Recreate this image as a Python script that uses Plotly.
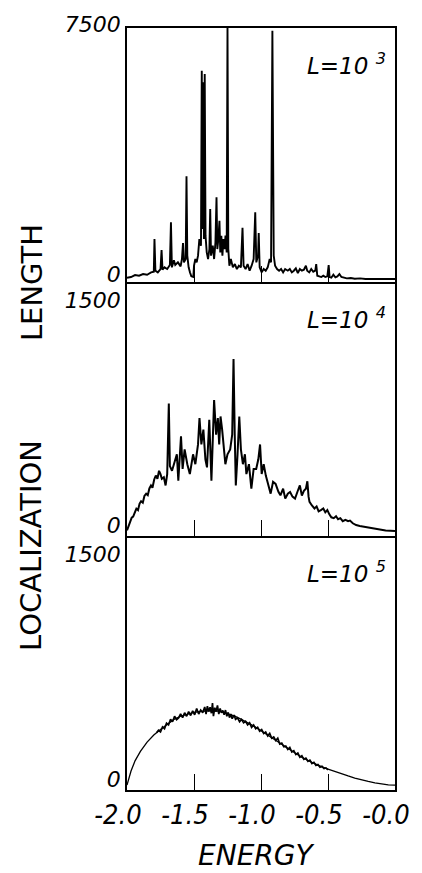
import plotly.graph_objects as go
from plotly.subplots import make_subplots

# ---------------- data ----------------
# Panel L=10^3
e1 = [-2.00, -1.97, -1.94, -1.91, -1.88, -1.85, -1.82, -1.80, -1.795, -1.788, -1.77, -1.75, -1.742, -1.735,
      -1.72, -1.70, -1.68, -1.672, -1.665, -1.65, -1.64, -1.62, -1.60, -1.59, -1.582, -1.575, -1.562, -1.556,
      -1.550, -1.54, -1.53, -1.52, -1.505, -1.50, -1.49, -1.48, -1.47, -1.46, -1.448, -1.442, -1.436, -1.430,
      -1.426, -1.420, -1.414, -1.405, -1.395, -1.385, -1.379, -1.373, -1.36, -1.35, -1.34, -1.332, -1.326,
      -1.318, -1.310, -1.304, -1.296, -1.288, -1.28, -1.272, -1.265, -1.256, -1.250, -1.244, -1.236, -1.225,
      -1.21, -1.195, -1.18, -1.165, -1.150, -1.138, -1.130, -1.115, -1.10, -1.085, -1.07, -1.055, -1.043,
      -1.035, -1.022, -1.017, -1.010, -0.995, -0.98, -0.965, -0.95, -0.935, -0.925, -0.915, -0.905, -0.895,
      -0.88, -0.865, -0.85, -0.835, -0.82, -0.80, -0.785, -0.77, -0.755, -0.74, -0.725, -0.71, -0.695, -0.68,
      -0.665, -0.655, -0.64, -0.625, -0.61, -0.595, -0.588, -0.58, -0.565, -0.55, -0.535, -0.52, -0.505,
      -0.495, -0.488, -0.475, -0.46, -0.445, -0.43, -0.415, -0.40, -0.38, -0.36, -0.33, -0.30, -0.26, -0.22,
      -0.15, -0.08, 0.0]
v1 = [40, 60, 120, 100, 150, 130, 200, 220, 1200, 250, 200, 300, 870, 280,
      350, 300, 420, 1700, 350, 560, 420, 500, 380, 600, 1080, 500, 600, 3080,
      700, 350, 200, 80, 60, 400, 600, 500, 700, 1200, 1000, 6250, 1500, 5900,
      1200, 6150, 1300, 800, 600, 900, 2100, 700, 1000, 600, 1100, 2450, 900,
      1200, 1750, 800, 1300, 700, 1200, 900, 1300, 800, 7600, 900, 400, 600,
      350, 450, 300, 400, 350, 1540, 400, 300, 450, 250, 400, 600, 2000,
      500, 700, 1380, 350, 200, 300, 250, 350, 600, 500, 7450, 700, 400,
      300, 250, 300, 200, 300, 250, 300, 200, 250, 320, 180, 300, 250, 280,
      400, 250, 200, 300, 220, 250, 450, 100, 80, 60, 100, 60, 80,
      420, 60, 40, 130, 50, 80, 150, 60, 40, 20, 30, 10, 20, 0,
      0, 0, 0]

# Panel L=10^4
e2 = [-2.000, -1.985, -1.975, -1.965, -1.954, -1.943, -1.930, -1.918, -1.906, -1.895, -1.882, -1.870,
      -1.857, -1.845, -1.833, -1.821, -1.810, -1.797, -1.785, -1.773, -1.761, -1.750, -1.740, -1.725,
      -1.712, -1.700, -1.688, -1.680, -1.664,
      -1.628, -1.617, -1.597, -1.585, -1.570, -1.550, -1.531, -1.507, -1.490, -1.470, -1.459, -1.445, -1.430,
      -1.415, -1.403, -1.386, -1.370, -1.360, -1.350, -1.335, -1.322, -1.312, -1.302, -1.290, -1.276, -1.266,
      -1.250, -1.230, -1.215, -1.205, -1.196, -1.188, -1.175, -1.162, -1.150, -1.135, -1.120, -1.109, -1.090,
      -1.072, -1.055, -1.036, -1.020, -1.007, -0.995, -0.980, -0.964, -0.945, -0.928, -0.910, -0.891, -0.870,
      -0.855, -0.835, -0.819, -0.800, -0.783, -0.765, -0.746, -0.728, -0.710, -0.695, -0.680, -0.665, -0.654,
      -0.645, -0.638, -0.620, -0.601, -0.585, -0.570, -0.553, -0.535, -0.520, -0.505, -0.490, -0.475, -0.457,
      -0.440, -0.425, -0.408, -0.390, -0.370, -0.350, -0.336, -0.315, -0.290, -0.263, -0.230, -0.200, -0.167,
      -0.120, -0.070, 0.000]
v2 = [5, 40, 55, 90, 97, 120, 150, 140, 184, 200, 190, 235,
      250, 240, 285, 305, 290, 345, 371, 350, 403, 380, 349, 360,
      305, 381, 853, 434, 403,
      513, 337, 634, 415, 546, 447, 381, 513, 447, 579, 755, 579, 678,
      480, 426, 744, 337, 579, 875, 644, 755, 579, 766, 678, 546, 447,
      513, 546, 644, 1149, 644, 305, 513, 766, 546, 447, 513, 381, 447,
      283, 415, 415, 480, 579, 381, 447, 371, 315, 250, 329, 315, 263,
      239, 283, 217, 250, 261, 230, 217, 263, 305, 237, 269, 283, 333,
      230, 195, 171, 151, 165, 132, 140, 151, 125, 140, 112, 92, 86,
      99, 79, 86, 66, 75, 66, 70, 52, 40, 34, 29, 26, 20,
      14, 4, 0]

# Panel L=10^5 : smooth curve and simulation
e3s = [-2.0, -1.97, -1.94, -1.9, -1.85, -1.8, -1.75, -1.7, -1.65, -1.6, -1.55, -1.5, -1.45, -1.4, -1.35,
       -1.3, -1.25, -1.2, -1.15, -1.1, -1.05, -1.0, -0.95, -0.9, -0.85, -0.8, -0.75, -0.7, -0.65, -0.6,
       -0.55, -0.5, -0.45, -0.4, -0.35, -0.3, -0.25, -0.2, -0.15, -0.1, -0.05, 0.0]
v3s = [0, 94, 162, 225, 287, 334, 371, 407, 439, 460, 475, 486, 493, 497, 497,
       491, 478, 462, 441, 418, 392, 363, 334, 305, 274, 243, 214, 188, 164, 142,
       123, 107, 90, 75, 61, 47, 34, 24, 15, 7, 2, 0]
e3 = [-1.78, -1.765, -1.75, -1.735, -1.72, -1.705, -1.69, -1.675, -1.66, -1.645, -1.63, -1.615, -1.60,
      -1.585, -1.57, -1.555, -1.54, -1.525, -1.51, -1.495, -1.48, -1.465, -1.45, -1.435, -1.42, -1.41,
      -1.40, -1.39, -1.38, -1.37, -1.362, -1.355, -1.345, -1.335, -1.325, -1.315, -1.305, -1.295, -1.285,
      -1.275, -1.265, -1.255, -1.245, -1.235, -1.225, -1.215, -1.20, -1.19, -1.175, -1.16, -1.145, -1.13,
      -1.115, -1.10, -1.085, -1.07, -1.055, -1.04, -1.025, -1.01, -0.995, -0.98, -0.965, -0.95, -0.935,
      -0.92, -0.905, -0.89, -0.875, -0.86, -0.845, -0.83, -0.815, -0.80, -0.785, -0.77, -0.755, -0.74,
      -0.725, -0.71, -0.695, -0.68, -0.665, -0.65, -0.635, -0.62, -0.605, -0.59, -0.575, -0.56, -0.545,
      -0.53, -0.515, -0.50]
v3 = [350, 366, 355, 389, 376, 413, 402, 439, 423, 460, 437, 449, 475,
      451, 483, 460, 491, 465, 496, 470, 512, 475, 501, 483, 522, 475,
      527, 491, 520, 480, 548, 460, 517, 491, 533, 475, 512, 483, 499,
      470, 501, 460, 486, 451, 475, 444, 468, 439, 449, 423, 439, 416,
      426, 402, 416, 386, 402, 376, 386, 360, 371, 345, 355, 329, 345,
      313, 322, 298, 313, 274, 280, 256, 261, 238, 251, 221, 230, 204,
      214, 186, 196, 172, 180, 159, 167, 144, 152, 132, 138, 120, 125,
      110, 115, 102]

x_tickvals = [-2.0, -1.5, -1.0, -0.5, 0.0]
x_ticktext = ["-2.0", "-1.5", "-1.0", "-0.5", "-0.0"]
panel_labels = ["3", "4", "5"]
y_tops = [7500, 1500, 1500]
y_ranges = [[-89, 7530], [-32.9, 1664.5], [-32.9, 1664.5]]
y_label_shift = [-5, -6, -6]

# ---------------- figure ----------------
fig = make_subplots(rows=3, cols=1, shared_xaxes=True, vertical_spacing=0)
fig.add_trace(go.Scatter(x=e1, y=v1, mode="lines", line=dict(color="black", width=1.9)), row=1, col=1)
fig.add_trace(go.Scatter(x=e2, y=v2, mode="lines", line=dict(color="black", width=2.0)), row=2, col=1)
fig.add_trace(go.Scatter(x=e3s, y=v3s, mode="lines", line=dict(color="black", width=1.3)), row=3, col=1)
fig.add_trace(go.Scatter(x=e3, y=v3, mode="lines", line=dict(color="black", width=1.7)), row=3, col=1)

narrow = "DejaVu Sans Condensed, Liberation Sans Narrow, Liberation Sans"
x_tick_font = dict(family=narrow, size=27, color="black", style="italic")
y_tick_font = dict(family="DejaVu Sans", size=22, color="black", style="italic")
for r in range(1, 4):
    fig.update_xaxes(range=[-2, 0], showline=True, mirror=(r == 1), linecolor="black", linewidth=1.5,
                     showgrid=False, zeroline=False, ticks="inside", ticklen=16, tickwidth=1.4,
                     tickcolor="black", tickvals=x_tickvals, ticktext=x_ticktext,
                     showticklabels=(r == 3), tickfont=x_tick_font, ticklabelshift=-9,
                     ticklabeloverflow="allow", row=r, col=1)
    fig.update_yaxes(range=y_ranges[r - 1], showline=True, mirror=True, linecolor="black", linewidth=1.5,
                     showgrid=False, zeroline=False, ticks="", tickvals=[0, y_tops[r - 1]],
                     tickfont=y_tick_font, ticklabelshift=y_label_shift[r - 1], row=r, col=1)

annotations = []
ydoms = ["y domain", "y2 domain", "y3 domain"]
for i, lab in enumerate(panel_labels):
    annotations.append(dict(text="L=10 <sup>" + lab + "</sup>", xref="paper", yref=ydoms[i],
                            x=0.975, y=0.86, xanchor="right", yanchor="middle", showarrow=False,
                            font=dict(family="DejaVu Sans", size=23, color="black", style="italic")))
ttl_font = dict(family="DejaVu Sans", size=29, color="black")
annotations.append(dict(text="LOCALIZATION", xref="paper", yref="paper", x=-0.356, y=0.321,
                        textangle=-90, showarrow=False, xanchor="center", yanchor="middle", font=ttl_font))
annotations.append(dict(text="LENGTH", xref="paper", yref="paper", x=-0.356, y=0.666,
                        textangle=-90, showarrow=False, xanchor="center", yanchor="middle", font=ttl_font))
annotations.append(dict(text="ENERGY", xref="paper", yref="paper", x=0.482, y=-0.0855,
                        showarrow=False, xanchor="center", yanchor="middle",
                        font=dict(family="DejaVu Sans", size=28, color="black", style="italic")))

fig.update_layout(width=422, height=873, margin=dict(l=127, r=19, t=17, b=83),
                  paper_bgcolor="white", plot_bgcolor="white", showlegend=False,
                  annotations=annotations)
fig.write_html("out.html", config={"displayModeBar": False},
               post_script="document.body.style.margin='0';document.body.style.padding='0';"
                           "document.documentElement.style.overflow='hidden';")
